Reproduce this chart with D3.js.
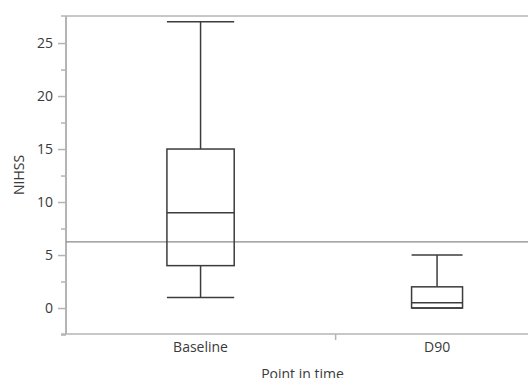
<!DOCTYPE html>
<html>
<head>
<meta charset="utf-8">
<script src="https://cdn.jsdelivr.net/npm/d3@7"></script>
<style>
  html, body { margin: 0; padding: 0; background: #fff; }
  svg { display: block; }
  text { font-family: "Open Sans", "Noto Sans", sans-serif; fill: #3a3a3a; }
</style>
</head>
<body>
<svg id="chart" width="528" height="378"></svg>
<script>
// ---- data ----
const categories = ["Baseline", "D90"];
const groupSize = [33, 25];          // relative group widths (proportional x-axis)
const lowerWhisker = [1, 0];
const q1 = [4, 0];
const median = [9, 0.5];
const q3 = [15, 2];
const upperWhisker = [27, 5];
const referenceValue = 6.25;
const yTicks = [0, 5, 10, 15, 20, 25];
const yMinorTicks = [-2.5, 2.5, 7.5, 12.5, 17.5, 22.5];
const yLabel = "NIHSS";
const xLabel = "Point in time";

// ---- layout ----
const W = 528, H = 378;
const mLeft = 66, mTop = 16, mBottom = 334, mRight = 539;
const axisColor = "#b4b4b4";
const boxColor = "#3c3c3c";
const fontSize = 14;

const svg = d3.select("#chart");

const y = d3.scaleLinear().domain([-2.45, 27.55]).range([mBottom, mTop]);
const total = d3.sum(groupSize);
const x = d3.scaleLinear().domain([0, total]).range([mLeft, mRight]);

const cum = [0];
groupSize.forEach((n, i) => cum.push(cum[i] + n));
const groups = categories.map((c, i) => ({
  cat: c,
  start: cum[i], end: cum[i + 1], mid: (cum[i] + cum[i + 1]) / 2,
  lw: lowerWhisker[i], q1: q1[i], med: median[i], q3: q3[i], uw: upperWhisker[i]
}));

// frame lines top & bottom
svg.append("line").attr("x1", mLeft - 5).attr("x2", W).attr("y1", mTop).attr("y2", mTop)
  .attr("stroke", axisColor).attr("stroke-width", 1.5);
svg.append("line").attr("x1", mLeft - 5).attr("x2", W).attr("y1", mBottom).attr("y2", mBottom)
  .attr("stroke", axisColor).attr("stroke-width", 1.5);

// y axis
const yAxis = d3.axisLeft(y).tickValues(yTicks).tickSize(8).tickPadding(5).tickFormat(d3.format("d"));
const gy = svg.append("g").attr("transform", `translate(${mLeft},0)`).call(yAxis);
gy.select(".domain").remove();
gy.selectAll(".tick line").attr("stroke", axisColor).attr("stroke-width", 1.5);
gy.selectAll(".tick text").style("font-size", fontSize + "px").style("fill", "#3a3a3a")
  .style("font-family", '"Open Sans", sans-serif');
const yMinor = d3.axisLeft(y).tickValues(yMinorTicks).tickSize(5).tickFormat("");
const gym = svg.append("g").attr("transform", `translate(${mLeft},0)`).call(yMinor);
gym.select(".domain").remove();
gym.selectAll(".tick line").attr("stroke", axisColor).attr("stroke-width", 1.5);
svg.append("line").attr("x1", mLeft).attr("x2", mLeft).attr("y1", mTop).attr("y2", mBottom)
  .attr("stroke", axisColor).attr("stroke-width", 2);

// x axis ticks at group boundaries, labels at group middles
const xb = d3.axisBottom(x).tickValues(cum.slice(1, -1)).tickSize(6).tickFormat("");
const gxb = svg.append("g").attr("transform", `translate(0,${mBottom})`).call(xb);
gxb.select(".domain").remove();
gxb.selectAll(".tick line").attr("stroke", axisColor).attr("stroke-width", 1.5);

svg.selectAll(".xlab").data(groups).enter().append("text")
  .attr("class", "xlab")
  .attr("x", d => x(d.mid)).attr("y", mBottom + 18)
  .attr("text-anchor", "middle").style("font-size", fontSize + "px")
  .text(d => d.cat);

// axis titles
svg.append("text").attr("x", (mLeft + mRight) / 2).attr("y", H + 1)
  .attr("text-anchor", "middle").style("font-size", fontSize + "px").text(xLabel);
svg.append("text").attr("transform", `translate(24,${(mTop + mBottom) / 2}) rotate(-90)`)
  .attr("text-anchor", "middle").style("font-size", fontSize + "px").text(yLabel);

// reference line
svg.append("line").attr("x1", mLeft).attr("x2", W)
  .attr("y1", y(referenceValue)).attr("y2", y(referenceValue))
  .attr("stroke", "#8a8a8a").attr("stroke-width", 1.3);

// boxes
const bw = d => (x(d.end) - x(d.start)) / 4;
const g = svg.selectAll(".box").data(groups).enter().append("g").attr("class", "box")
  .attr("fill", "none").attr("stroke", boxColor).attr("stroke-width", 1.5);
g.append("line").attr("x1", d => x(d.mid)).attr("x2", d => x(d.mid))
  .attr("y1", d => y(d.uw)).attr("y2", d => y(d.q3));
g.append("line").attr("x1", d => x(d.mid)).attr("x2", d => x(d.mid))
  .attr("y1", d => y(d.q1)).attr("y2", d => y(d.lw));
g.append("line").attr("x1", d => x(d.mid) - bw(d) / 2).attr("x2", d => x(d.mid) + bw(d) / 2)
  .attr("y1", d => y(d.uw)).attr("y2", d => y(d.uw));
g.append("line").attr("x1", d => x(d.mid) - bw(d) / 2).attr("x2", d => x(d.mid) + bw(d) / 2)
  .attr("y1", d => y(d.lw)).attr("y2", d => y(d.lw));
g.append("rect").attr("x", d => x(d.mid) - bw(d) / 2).attr("width", bw)
  .attr("y", d => y(d.q3)).attr("height", d => y(d.q1) - y(d.q3));
g.append("line").attr("x1", d => x(d.mid) - bw(d) / 2).attr("x2", d => x(d.mid) + bw(d) / 2)
  .attr("y1", d => y(d.med)).attr("y2", d => y(d.med));
</script>
</body>
</html>
